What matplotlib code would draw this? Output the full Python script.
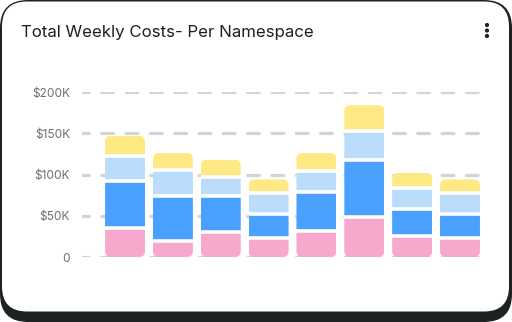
import numpy as np
import matplotlib.pyplot as plt
from matplotlib.patches import FancyBboxPatch, Circle

plt.rcParams['lines.scale_dashes'] = False

W, H, DPI = 512, 322, 100

# weekly cost per namespace in $K, stacked bottom -> top
weeks = ['W1', 'W2', 'W3', 'W4', 'W5', 'W6', 'W7', 'W8']
ns_pink = [35, 20, 30, 23, 32, 49, 25, 23]
ns_blue = [57, 54, 44, 29, 47, 69, 33, 29]
ns_light = [31, 31, 23, 25, 25, 35, 26, 25]
ns_yellow = [24, 21, 21, 17, 22, 31, 18, 17]

yticks = [0, 50, 100, 150, 200]
ytick_labels = ['0', '$50K', '$100K', '$150K', '$200K']

series = [ns_pink, ns_blue, ns_light, ns_yellow]
colors = ['#f7a8cd', '#4aa0ff', '#bcdcfb', '#ffe985']
font = 'Inter'

fig = plt.figure(figsize=(W / DPI, H / DPI), dpi=DPI, facecolor='white')

# card with dark outline / bottom shadow, drawn in pixel coords
bg = fig.add_axes([0, 0, 1, 1])
bg.set_xlim(0, W)
bg.set_ylim(H, 0)
bg.axis('off')
bg.add_patch(FancyBboxPatch((0, 0), W, H, boxstyle='round,pad=0,rounding_size=28',
                            fc='#1e2222', ec='none'))
bg.add_patch(FancyBboxPatch((2, 1.5), 507, 310, boxstyle='round,pad=0,rounding_size=25',
                            fc='white', ec='none'))
for yy in (25, 30.5, 36):
    bg.add_patch(Circle((487, yy), 1.4, color='#222222'))

bg.text(21, 37.3, 'Total Weekly Costs- Per Namespace', ha='left', va='baseline',
        fontsize=12.15, color='#1f1f1f', family=font)

# chart area
x0, x1, y0, y1 = 82, 482, 257, 92
ax = fig.add_axes([x0 / W, (H - y0) / H, (x1 - x0) / W, (y0 - y1) / H])
ax.set_facecolor('none')
ax.set_xlim(-0.9, 7.46)
ax.set_ylim(0, 200)
for s in ax.spines.values():
    s.set_visible(False)
ax.set_xticks([])
ax.set_yticks(yticks)
ax.set_yticklabels(ytick_labels, color='#6f6f6f', fontsize=8.6, family=font)
ax.tick_params(axis='y', length=0, pad=8.6)
ax.grid(axis='y', color='#d4d4d4', lw=2.3, linestyle=(3.6, (8.5, 9.0)),
        dash_capstyle='round')
ax.set_axisbelow(True)

# rounding: radius in x units, aspect to keep corners circular in pixels
px_x = (x1 - x0) / (7.46 + 0.9)
px_y = (y0 - y1) / 200
r_px = 6
aspect = px_x / px_y

bw = 0.835
x = np.arange(len(weeks))
bottom = np.zeros(len(weeks))
tops = np.sum(series, axis=0)

clips = []
for i in x:
    clip = FancyBboxPatch((i - bw / 2, 0), bw, tops[i],
                          boxstyle='round,pad=0,rounding_size=%f' % (r_px / px_x),
                          mutation_aspect=aspect, transform=ax.transData,
                          fc='none', ec='none')
    clips.append(clip)

for vals, c in zip(series, colors):
    bars = ax.bar(x, vals, bottom=bottom, width=bw, color=c, linewidth=0, zorder=2)
    for i, rect in enumerate(bars):
        rect.set_clip_path(clips[i])
    bottom = bottom + np.array(vals)

# white gaps between stacked segments
cum = np.cumsum(series, axis=0)[:-1]
for i in x:
    ax.hlines(cum[:, i], i - bw / 2, i + bw / 2, color='white', lw=2.6, zorder=3)

fig.savefig('out.png', dpi=DPI)
